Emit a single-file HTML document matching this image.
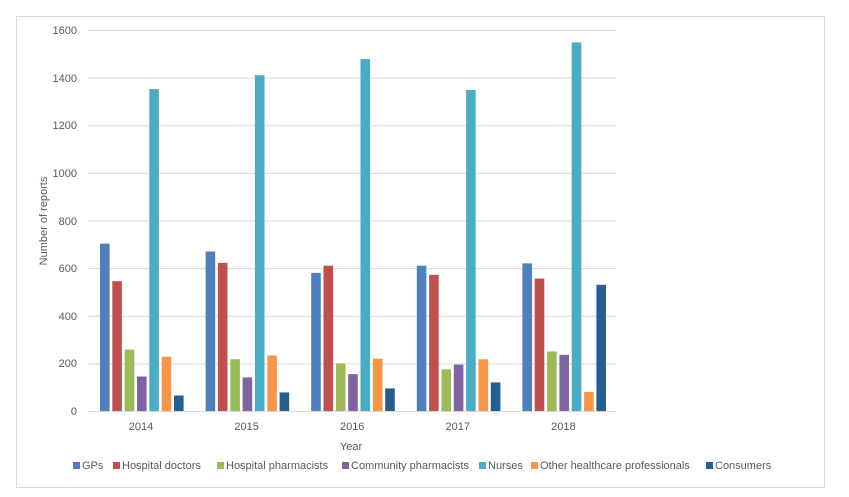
<!DOCTYPE html>
<html><head><style>body{margin:0;background:#fff}svg{display:block;font-family:"Liberation Sans",sans-serif}</style></head><body>
<svg width="849" height="497" xmlns="http://www.w3.org/2000/svg">
<rect x="16.5" y="16.5" width="808" height="471" fill="#fff" stroke="#d9d9d9"/>
<g stroke="#d9d9d9" stroke-width="1">
<line x1="88" x2="616" y1="411.5" y2="411.5"/>
<line x1="88" x2="616" y1="363.9" y2="363.9"/>
<line x1="88" x2="616" y1="316.3" y2="316.3"/>
<line x1="88" x2="616" y1="268.6" y2="268.6"/>
<line x1="88" x2="616" y1="221" y2="221"/>
<line x1="88" x2="616" y1="173.4" y2="173.4"/>
<line x1="88" x2="616" y1="125.8" y2="125.8"/>
<line x1="88" x2="616" y1="78.1" y2="78.1"/>
<line x1="88" x2="616" y1="30.5" y2="30.5"/>
</g>
<g font-size="11" fill="#595959" text-anchor="end">
<text x="77" y="415">0</text><text x="77" y="367">200</text><text x="77" y="320">400</text><text x="77" y="272">600</text><text x="77" y="225">800</text><text x="77" y="177">1000</text><text x="77" y="129">1200</text><text x="77" y="82">1400</text><text x="77" y="34">1600</text>
</g>
<g font-size="11" fill="#595959" text-anchor="middle">
<text x="141" y="430">2014</text><text x="246.6" y="430">2015</text><text x="352.2" y="430">2016</text><text x="457.8" y="430">2017</text><text x="563.4" y="430">2018</text>
<text x="351" y="450">Year</text>
<text transform="translate(47,221) rotate(-90)">Number of reports</text>
</g>
<g>
<rect x="100" y="243.6" width="9.6" height="167.4" fill="#4f7fbd"/>
<rect x="112.3" y="281.2" width="9.6" height="129.8" fill="#c0504d"/>
<rect x="124.7" y="349.6" width="9.6" height="61.4" fill="#9bbb59"/>
<rect x="137" y="376.5" width="9.6" height="34.5" fill="#8064a2"/>
<rect x="149.3" y="89.1" width="9.6" height="321.9" fill="#4bacc6"/>
<rect x="161.7" y="356.7" width="9.6" height="54.3" fill="#f79646"/>
<rect x="174" y="395.5" width="9.6" height="15.5" fill="#255e91"/>

<rect x="205.6" y="251.5" width="9.6" height="159.5" fill="#4f7fbd"/>
<rect x="217.9" y="262.9" width="9.6" height="148.1" fill="#c0504d"/>
<rect x="230.3" y="359.3" width="9.6" height="51.7" fill="#9bbb59"/>
<rect x="242.6" y="377.4" width="9.6" height="33.6" fill="#8064a2"/>
<rect x="254.9" y="75.2" width="9.6" height="335.8" fill="#4bacc6"/>
<rect x="267.3" y="355.5" width="9.6" height="55.5" fill="#f79646"/>
<rect x="279.6" y="392.4" width="9.6" height="18.6" fill="#255e91"/>

<rect x="311.2" y="272.9" width="9.6" height="138.1" fill="#4f7fbd"/>
<rect x="323.5" y="265.7" width="9.6" height="145.3" fill="#c0504d"/>
<rect x="335.9" y="363.4" width="9.6" height="47.6" fill="#9bbb59"/>
<rect x="348.2" y="374.1" width="9.6" height="36.9" fill="#8064a2"/>
<rect x="360.5" y="59.1" width="9.6" height="351.9" fill="#4bacc6"/>
<rect x="372.9" y="358.6" width="9.6" height="52.4" fill="#f79646"/>
<rect x="385.2" y="388.4" width="9.6" height="22.6" fill="#255e91"/>

<rect x="416.8" y="265.7" width="9.6" height="145.3" fill="#4f7fbd"/>
<rect x="429.1" y="274.8" width="9.6" height="136.2" fill="#c0504d"/>
<rect x="441.5" y="369.3" width="9.6" height="41.7" fill="#9bbb59"/>
<rect x="453.8" y="364.6" width="9.6" height="46.4" fill="#8064a2"/>
<rect x="466.1" y="90" width="9.6" height="321" fill="#4bacc6"/>
<rect x="478.5" y="359.3" width="9.6" height="51.7" fill="#f79646"/>
<rect x="490.8" y="382.4" width="9.6" height="28.6" fill="#255e91"/>

<rect x="522.4" y="263.4" width="9.6" height="147.6" fill="#4f7fbd"/>
<rect x="534.7" y="278.6" width="9.6" height="132.4" fill="#c0504d"/>
<rect x="547.1" y="351.5" width="9.6" height="59.5" fill="#9bbb59"/>
<rect x="559.4" y="354.8" width="9.6" height="56.2" fill="#8064a2"/>
<rect x="571.7" y="42.4" width="9.6" height="368.6" fill="#4bacc6"/>
<rect x="584.1" y="391.9" width="9.6" height="19.1" fill="#f79646"/>
<rect x="596.4" y="284.8" width="9.6" height="126.2" fill="#255e91"/>
</g>
<g font-size="11" fill="#595959">
<rect x="73" y="462" width="7" height="7" fill="#4f7fbd"/><text x="82" y="469">GPs</text>
<rect x="113" y="462" width="7" height="7" fill="#c0504d"/><text x="122" y="469">Hospital doctors</text>
<rect x="217" y="462" width="7" height="7" fill="#9bbb59"/><text x="226" y="469">Hospital pharmacists</text>
<rect x="342" y="462" width="7" height="7" fill="#8064a2"/><text x="351" y="469">Community pharmacists</text>
<rect x="479" y="462" width="7" height="7" fill="#4bacc6"/><text x="488" y="469">Nurses</text>
<rect x="531" y="462" width="7" height="7" fill="#f79646"/><text x="540" y="469">Other healthcare professionals</text>
<rect x="706" y="462" width="7" height="7" fill="#255e91"/><text x="715" y="469">Consumers</text>
</g>
</svg>
</body></html>
